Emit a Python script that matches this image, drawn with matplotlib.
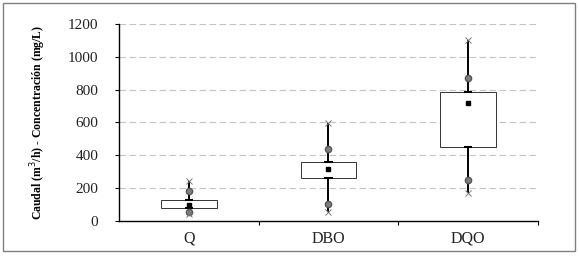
import matplotlib.pyplot as plt
from matplotlib.patches import Rectangle

# ==== DATI ====
categorias = ["Q", "DBO", "DQO"]
q1 = [81, 260, 451]
q3 = [128, 361, 786]
media = [100, 317, 719]
p10 = [55, 105, 250]
p90 = [183, 437, 873]
minimo = [45, 57, 169]
maximo = [245, 595, 1102]
y_ticks = [0, 200, 400, 600, 800, 1000, 1200]

plt.rcParams['font.family'] = ['Liberation Serif', 'DejaVu Serif']

fig = plt.figure(figsize=(5.79, 2.56), dpi=100)
ax = fig.add_axes([0.2055, 0.137, 0.7235, 0.769])

# cornice della figura
fig.patches.append(Rectangle((0.006, 0.018), 0.987, 0.97, transform=fig.transFigure,
                             fill=False, edgecolor="#808080", linewidth=1.0))

pos = list(range(len(categorias)))

# --- baffi ---
ax.vlines(pos, minimo, maximo, color="black", linewidth=1.4, zorder=2)

# --- scatole ---
ax.bar(pos, [b - a for a, b in zip(q1, q3)], bottom=q1, width=0.4,
       color="white", edgecolor="#333333", linewidth=0.7, zorder=3)
for x, a, b in zip(pos, q1, q3):
    ax.hlines([a, b], x - 0.03, x + 0.03, color="black", linewidth=1.5, zorder=4)

# --- marcatori ---
ax.plot(pos, p10, "o", color="#7f7f7f", markeredgecolor="#555555", markersize=4.5, zorder=5)
ax.plot(pos, p90, "o", color="#7f7f7f", markeredgecolor="#555555", markersize=4.5, zorder=5)
ax.plot(pos, minimo, "x", color="#777777", markersize=5, markeredgewidth=0.7, zorder=5)
ax.plot(pos, maximo, "x", color="#777777", markersize=5, markeredgewidth=0.7, zorder=5)
ax.plot(pos, media, "s", color="black", markersize=3.5, zorder=6)

# --- assi ---
ax.set_xlim(-0.5, 2.5)
ax.set_ylim(0, 1200)
ax.set_yticks(y_ticks)
ax.set_yticklabels([str(v) for v in y_ticks], fontsize=11, color="#222222")
ax.set_xticks(pos)
ax.set_xticklabels(categorias, fontsize=11.5, color="#222222")
ax.tick_params(axis="x", length=0, pad=7)
ax.set_xticks([0.5, 1.5, 2.5], minor=True)
ax.tick_params(axis="x", which="minor", length=3, direction="out", width=0.8)
ax.tick_params(axis="y", length=3, width=0.8, pad=12)

for v in y_ticks[1:]:
    ax.axhline(v, color="#c4c4c4", linestyle=(0, (6, 3)), linewidth=0.8, zorder=0)

ax.spines["top"].set_visible(False)
ax.spines["right"].set_visible(False)
ax.spines["left"].set_linewidth(1.0)
ax.spines["bottom"].set_linewidth(1.0)

ax.set_ylabel("Caudal (m$^3$/h) - Concentración (mg/L)", fontsize=8.5,
              fontweight="bold", labelpad=14)

fig.savefig("out.png", dpi=100)
